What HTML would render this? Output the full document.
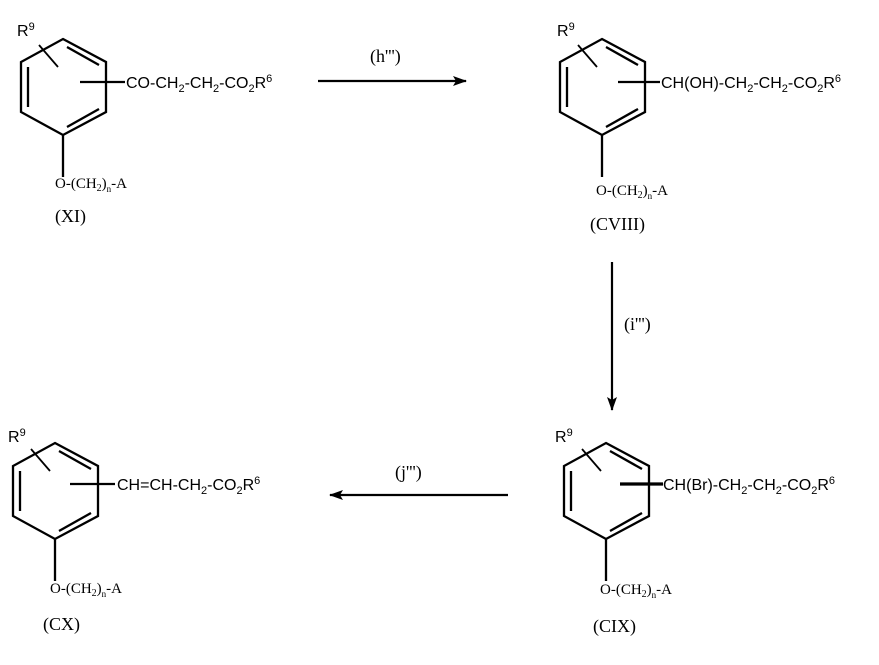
<!DOCTYPE html>
<html><head><meta charset="utf-8"><style>
html,body{margin:0;padding:0;background:#fff;}
svg{display:block;}
.s{font-family:"Liberation Sans",Arial,sans-serif;font-size:16px;fill:#000;}
.r{font-family:"Liberation Serif","Times New Roman",serif;font-size:15px;fill:#000;}
.l{font-family:"Liberation Serif","Times New Roman",serif;font-size:18px;fill:#000;}
</style></head><body>
<svg width="879" height="665" viewBox="0 0 879 665" xmlns="http://www.w3.org/2000/svg">
<defs>
<g id="ring" stroke="#000" stroke-width="2.3" fill="none">
<polygon points="0,0 43,23 43,73 0,96 -42,73 -42,23"/>
<line x1="-35" y1="28" x2="-35" y2="68"/>
<line x1="4" y1="8" x2="36" y2="26"/>
<line x1="36" y1="70" x2="4" y2="88"/>
<line x1="0" y1="96" x2="0" y2="138"/>
<line x1="-24" y1="6" x2="-5" y2="28" stroke-width="1.8"/>
</g>
<marker id="ah" markerWidth="14" markerHeight="10" refX="13" refY="5" orient="auto" markerUnits="userSpaceOnUse">
<path d="M0,0 L14,5 L0,10 L3,5 Z" fill="#000"/>
</marker>
</defs>

<!-- XI -->
<use href="#ring" x="63" y="39"/>
<line x1="80" y1="82" x2="125" y2="82" stroke="#000" stroke-width="2.3"/>
<text class="s" x="17" y="36">R<tspan font-size="11" dy="-6">9</tspan></text>
<text class="s" x="126" y="88">CO-CH<tspan font-size="11" dy="4">2</tspan><tspan dy="-4">-CH</tspan><tspan font-size="11" dy="4">2</tspan><tspan dy="-4">-CO</tspan><tspan font-size="11" dy="4">2</tspan><tspan dy="-4">R</tspan><tspan font-size="11" dy="-6">6</tspan></text>
<text class="r" x="55" y="188">O-(CH<tspan font-size="10" dy="3">2</tspan><tspan dy="-3">)</tspan><tspan font-size="9" dy="4">n</tspan><tspan dy="-4">-A</tspan></text>
<text class="l" x="55" y="222">(XI)</text>

<!-- CVIII -->
<use href="#ring" x="602" y="39"/>
<line x1="618" y1="82" x2="660" y2="82" stroke="#000" stroke-width="2.3"/>
<text class="s" x="557" y="36">R<tspan font-size="11" dy="-6">9</tspan></text>
<text class="s" x="661" y="88">CH(OH)-CH<tspan font-size="11" dy="4">2</tspan><tspan dy="-4">-CH</tspan><tspan font-size="11" dy="4">2</tspan><tspan dy="-4">-CO</tspan><tspan font-size="11" dy="4">2</tspan><tspan dy="-4">R</tspan><tspan font-size="11" dy="-6">6</tspan></text>
<text class="r" x="596" y="195">O-(CH<tspan font-size="10" dy="3">2</tspan><tspan dy="-3">)</tspan><tspan font-size="9" dy="4">n</tspan><tspan dy="-4">-A</tspan></text>
<text class="l" x="590" y="230">(CVIII)</text>

<!-- CIX -->
<use href="#ring" x="606" y="443"/>
<line x1="620" y1="484" x2="663" y2="484" stroke="#000" stroke-width="3.2"/>
<text class="s" x="555" y="442">R<tspan font-size="11" dy="-6">9</tspan></text>
<text class="s" x="663" y="490">CH(Br)-CH<tspan font-size="11" dy="4">2</tspan><tspan dy="-4">-CH</tspan><tspan font-size="11" dy="4">2</tspan><tspan dy="-4">-CO</tspan><tspan font-size="11" dy="4">2</tspan><tspan dy="-4">R</tspan><tspan font-size="11" dy="-6">6</tspan></text>
<text class="r" x="600" y="594">O-(CH<tspan font-size="10" dy="3">2</tspan><tspan dy="-3">)</tspan><tspan font-size="9" dy="4">n</tspan><tspan dy="-4">-A</tspan></text>
<text class="l" x="593" y="632">(CIX)</text>

<!-- CX -->
<use href="#ring" x="55" y="443"/>
<line x1="70" y1="484" x2="115" y2="484" stroke="#000" stroke-width="2.3"/>
<text class="s" x="8" y="442">R<tspan font-size="11" dy="-6">9</tspan></text>
<text class="s" x="117" y="490">CH=CH-CH<tspan font-size="11" dy="4">2</tspan><tspan dy="-4">-CO</tspan><tspan font-size="11" dy="4">2</tspan><tspan dy="-4">R</tspan><tspan font-size="11" dy="-6">6</tspan></text>
<text class="r" x="50" y="593">O-(CH<tspan font-size="10" dy="3">2</tspan><tspan dy="-3">)</tspan><tspan font-size="9" dy="4">n</tspan><tspan dy="-4">-A</tspan></text>
<text class="l" x="43" y="630">(CX)</text>

<!-- arrows -->
<line x1="318" y1="81" x2="466" y2="81" stroke="#000" stroke-width="2.2" marker-end="url(#ah)"/>
<text class="l" x="370" y="62">(h''')</text>
<line x1="612" y1="262" x2="612" y2="410" stroke="#000" stroke-width="2.2" marker-end="url(#ah)"/>
<text class="l" x="624" y="330">(i''')</text>
<line x1="508" y1="495" x2="330" y2="495" stroke="#000" stroke-width="2.2" marker-end="url(#ah)"/>
<text class="l" x="395" y="478">(j''')</text>
</svg>
</body></html>
